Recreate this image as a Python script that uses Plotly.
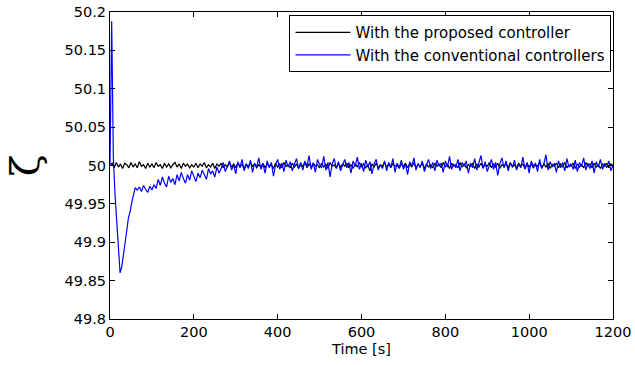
import plotly.graph_objects as go

# ---- data ----
time_proposed = list(range(0, 1201, 5))
freq_proposed = [
    50.000, 50.003, 49.997, 50.004, 49.998, 50.002, 49.996, 50.003, 50.001, 49.997, 50.004, 49.998, 50.002, 49.997, 50.005, 49.999, 50.001, 49.996, 50.003, 49.998,
    50.002, 49.997, 50.004, 49.999, 50.001, 49.996, 50.003, 49.998, 50.002, 49.997, 50.001, 50.004, 49.998, 50.002, 49.996, 50.003, 49.999, 50.002, 49.997, 50.001,
    49.998, 50.003, 49.997, 50.002, 49.999, 50.004, 49.997, 50.001, 49.998, 50.003, 49.996, 50.002, 49.999, 50.003, 49.997, 50.001, 49.998, 50.004, 49.998, 50.002,
    49.997, 50.003, 49.999, 50.001, 49.996, 50.002, 49.998, 50.004, 49.999, 50.002, 49.997, 50.001, 49.998, 50.003, 49.997, 50.002, 49.999, 50.001, 49.996, 50.003,
    49.998, 50.002, 49.997, 50.004, 49.999, 50.001, 49.997, 50.003, 49.998, 50.002, 49.996, 50.001, 49.999, 50.004, 49.997, 50.002, 49.998, 50.003, 49.999, 50.001,
    49.997, 50.003, 49.998, 50.002, 49.996, 50.004, 49.999, 50.001, 49.997, 50.003, 49.998, 50.002, 49.999, 50.003, 49.997, 50.001, 49.996, 50.002, 49.998, 50.004,
    49.998, 50.002, 49.997, 50.001, 49.993, 50.002, 49.998, 50.003, 49.997, 50.001, 49.999, 50.004, 49.998, 50.002, 49.997, 50.003, 49.999, 50.001, 49.996, 50.002,
    49.999, 50.003, 49.997, 50.002, 49.998, 50.004, 49.997, 50.001, 49.999, 50.003, 49.996, 50.002, 49.998, 50.001, 49.997, 50.003, 49.999, 50.002, 49.997, 50.004,
    49.998, 50.002, 49.996, 50.003, 49.999, 50.001, 49.997, 50.004, 49.998, 50.002, 49.997, 50.001, 49.999, 50.003, 49.996, 50.002, 49.998, 50.003, 49.997, 50.001,
    49.999, 50.004, 49.997, 50.002, 49.998, 50.003, 49.996, 50.001, 49.999, 50.002, 49.997, 50.004, 49.998, 50.001, 49.997, 50.003, 49.999, 50.002, 49.996, 50.003,
    49.998, 50.002, 49.997, 50.001, 49.999, 50.004, 49.997, 50.002, 49.998, 50.003, 49.996, 50.001, 49.999, 50.003, 49.997, 50.002, 49.998, 50.004, 49.997, 50.001,
    49.999, 50.003, 49.996, 50.002, 49.998, 50.001, 49.997, 50.004, 49.999, 50.002, 49.997, 50.003, 49.998, 50.001, 49.996, 50.002, 49.999, 50.003, 49.997, 50.002,
    50.000,
]

time_conventional = [0, 2, 4, 6, 8, 12, 16, 20, 24, 28, 32, 36, 40, 44, 48, 52, 56, 60] + list(range(65, 1201, 5))
freq_conventional = [
    50.000, 50.120, 50.188, 50.100, 50.010, 49.962, 49.925, 49.888, 49.860, 49.868, 49.882, 49.900, 49.915, 49.932, 49.940, 49.952, 49.962, 49.971,
    49.968, 49.972, 49.966, 49.974, 49.969, 49.965, 49.973, 49.968, 49.975, 49.970, 49.982, 49.974, 49.985, 49.977, 49.972, 49.986, 49.978, 49.983, 49.975, 49.988,
    49.980, 49.991, 49.983, 49.977, 49.988, 49.981, 49.993, 49.985, 49.979, 49.990, 49.984, 49.994, 49.987, 49.982, 49.996, 49.989, 49.993, 49.985, 49.998, 49.990,
    49.996, 50.004, 49.992, 49.999, 50.006, 49.994, 50.001, 49.989, 50.005, 49.997, 50.008, 49.993, 50.002, 49.996, 50.007, 49.991, 50.003, 49.998, 50.010, 49.995,
    50.002, 49.990, 50.006, 49.997, 50.004, 49.986, 50.001, 50.008, 49.995, 50.003, 49.992, 50.007, 49.998, 50.005, 49.993, 50.002, 50.009, 49.996, 50.004, 49.994,
    50.006, 49.999, 50.013, 49.995, 50.003, 49.991, 50.008, 50.001, 49.997, 50.012, 49.994, 50.004, 49.985, 50.002, 50.009, 49.996, 50.005, 49.993, 50.001, 50.008,
    49.997, 50.004, 49.990, 50.006, 49.999, 50.011, 49.995, 50.003, 49.992, 50.007, 49.998, 50.005, 49.989, 50.002, 50.008, 49.994, 50.001, 49.996, 50.006, 49.993,
    50.004, 49.998, 50.009, 49.991, 50.003, 49.997, 50.007, 49.995, 50.002, 49.988, 50.005, 49.999, 50.010, 49.994, 50.003, 49.997, 50.006, 49.992, 50.001, 50.008,
    49.996, 50.004, 49.993, 50.007, 49.999, 50.003, 49.991, 50.006, 49.998, 50.012, 49.995, 50.002, 49.997, 50.008, 49.993, 50.004, 49.999, 50.006, 49.990, 50.003,
    49.997, 50.009, 49.994, 50.003, 50.013, 49.996, 50.005, 49.992, 50.001, 50.008, 49.995, 50.004, 49.987, 50.002, 50.010, 49.997, 50.006, 49.993, 50.003, 49.998,
    50.007, 49.994, 50.002, 49.997, 50.011, 49.995, 50.004, 49.990, 50.006, 49.999, 50.003, 49.992, 50.008, 49.996, 50.002, 50.014, 49.994, 50.005, 49.998, 50.003,
    49.991, 50.006, 49.997, 50.004, 49.993, 50.009, 49.998, 50.002, 49.995, 50.007, 49.992, 50.004, 49.999, 50.010, 49.994, 50.003, 49.996, 50.006, 49.990, 50.005,
    49.998, 50.008, 49.995, 50.003, 49.997, 50.006, 49.993, 50.000,
]

x_ticks = [0, 200, 400, 600, 800, 1000, 1200]
y_ticks = [49.8, 49.85, 49.9, 49.95, 50.0, 50.05, 50.1, 50.15, 50.2]
y_tick_labels = ["49.8", "49.85", "49.9", "49.95", "50", "50.05", "50.1", "50.15", "50.2"]

series_names = ["With the proposed controller", "With the conventional controllers"]

# ---- figure ----
fig = go.Figure()
fig.add_trace(go.Scatter(x=time_proposed, y=freq_proposed, mode="lines",
                         name=series_names[0], line=dict(color="black", width=1.2)))
fig.add_trace(go.Scatter(x=time_conventional, y=freq_conventional, mode="lines",
                         name=series_names[1], line=dict(color="#0000ff", width=1.2)))

sans = "DejaVu Sans, sans-serif"
tick_font = dict(family=sans, size=14.5, color="black")

fig.update_layout(
    width=635, height=365,
    margin=dict(l=110, r=22, t=12, b=46, autoexpand=False),
    paper_bgcolor="white", plot_bgcolor="white",
    font=tick_font,
    showlegend=True,
    legend=dict(x=0.997, y=0.99, xanchor="right", yanchor="top",
                bgcolor="white", bordercolor="black", borderwidth=1,
                font=dict(family=sans, size=15, color="black"),
                tracegroupgap=0, itemwidth=55),
    xaxis=dict(range=[0, 1200], tickvals=x_ticks, ticktext=[str(v) for v in x_ticks],
               automargin=False,
               showgrid=False, zeroline=False, showline=True, linecolor="black", linewidth=1,
               mirror="ticks", ticks="inside", ticklen=5, tickcolor="black",
               tickfont=tick_font,
               title=dict(text="Time [s]", font=dict(family=sans, size=14.5, color="black"), standoff=4)),
    yaxis=dict(range=[49.8, 50.2], tickvals=y_ticks, ticktext=y_tick_labels,
               automargin=False,
               showgrid=False, zeroline=False, showline=True, linecolor="black", linewidth=1,
               mirror="ticks", ticks="inside", ticklen=5, tickcolor="black",
               tickfont=tick_font,
               title=dict(text="ζ", font=dict(family="DejaVu Serif, serif", size=40, color="black"),
                          standoff=12)),
)

fig.write_html("out.html",
               config={"displayModeBar": False},
               post_script="document.body.style.margin='0';document.body.style.overflow='hidden';")
